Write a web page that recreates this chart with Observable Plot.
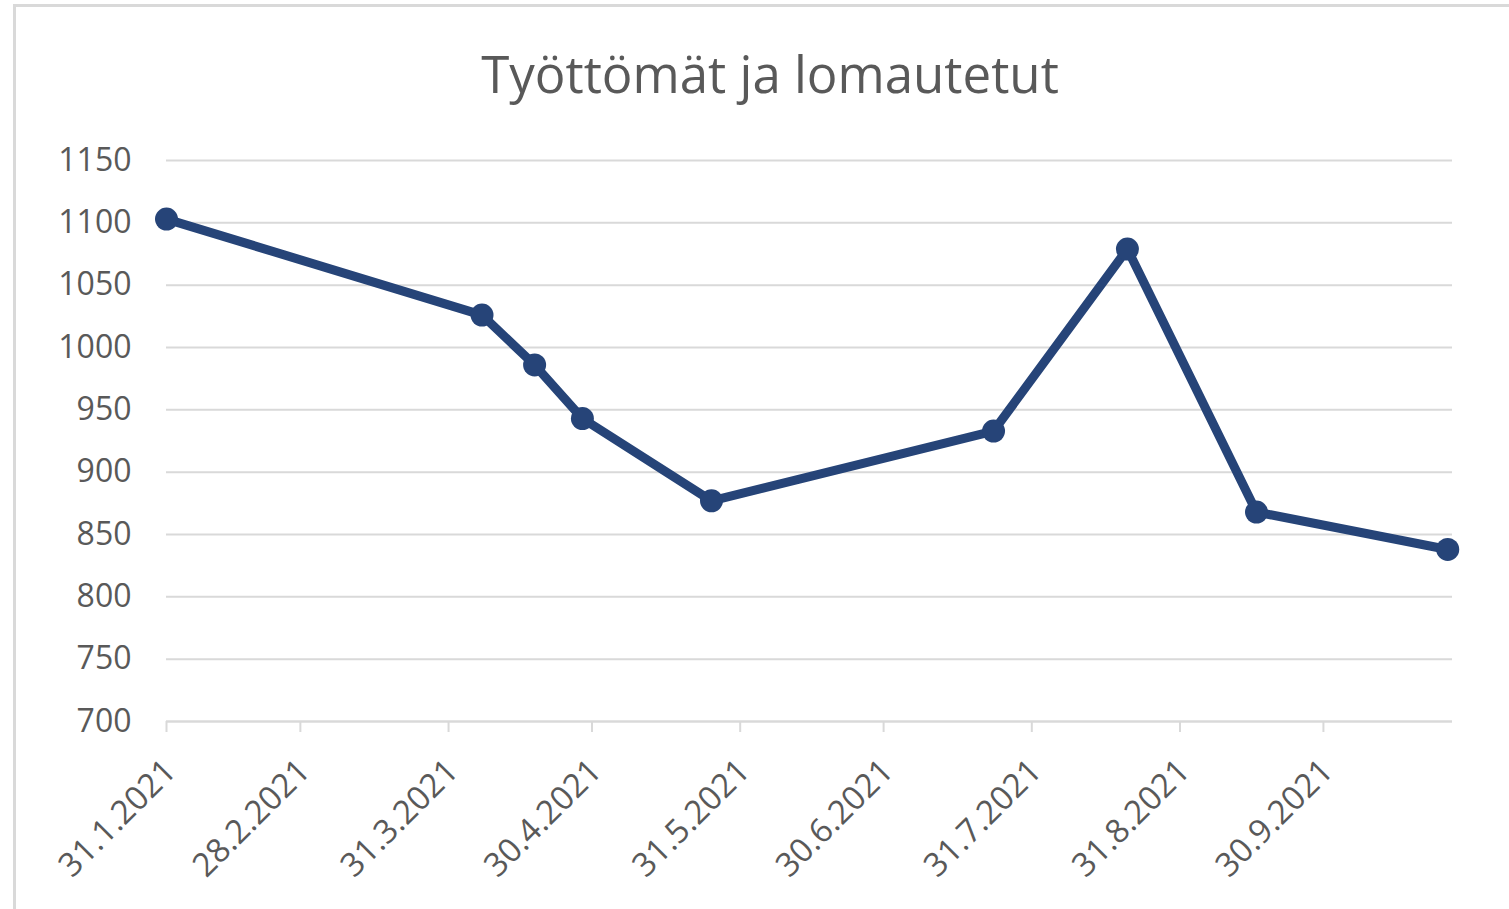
<!DOCTYPE html>
<html>
<head>
<meta charset="utf-8">
<script src="https://cdn.jsdelivr.net/npm/d3@7"></script>
<script src="https://cdn.jsdelivr.net/npm/@observablehq/plot@0.6"></script>
<style>
  html, body { margin: 0; padding: 0; background: #fff; }
  #wrap { position: relative; width: 1509px; height: 909px; overflow: hidden; background: #fff; }
  #frame { position: absolute; left: 13px; top: 4px; width: 1600px; height: 1000px; border: 3px solid #d9d9d9; box-sizing: border-box; }
  #title { position: absolute; left: 0; top: 48px; width: 1540px; text-align: center; font-family: "Open Sans", sans-serif; font-size: 51px; line-height: 50px; color: #595959; }
  #chart { position: absolute; left: 0; top: 120px; }
</style>
</head>
<body>
<div id="wrap">
  <div id="frame"></div>
  <div id="title">Työttömät ja lomautetut</div>
  <div id="chart"></div>
</div>
<script>
const dates = ["2021-01-31","2021-04-07","2021-04-18","2021-04-28","2021-05-25","2021-07-23","2021-08-20","2021-09-16","2021-10-26"];
const values = [1103, 1026, 986, 943, 877, 933, 1079, 868, 838];
const yTicks = [700, 750, 800, 850, 900, 950, 1000, 1050, 1100, 1150];
const xTickDates = ["2021-01-31","2021-02-28","2021-03-31","2021-04-30","2021-05-31","2021-06-30","2021-07-31","2021-08-31","2021-09-30"];
const xTickLabels = ["31.1.2021","28.2.2021","31.3.2021","30.4.2021","31.5.2021","30.6.2021","31.7.2021","31.8.2021","30.9.2021"];
const xDomain = ["2021-01-31", "2021-10-27"];

const data = dates.map((d, i) => ({date: new Date(d), value: values[i]}));
const ticks = xTickDates.map(d => new Date(d));
const fmt = d => xTickLabels[ticks.findIndex(t => +t === +d)];

const chart = Plot.plot({
  width: 1509,
  height: 789,
  marginTop: 40,
  marginBottom: 188,
  marginLeft: 166,
  marginRight: 57,
  style: {fontFamily: "Open Sans, sans-serif", background: "transparent", overflow: "visible"},
  x: {type: "utc", domain: xDomain.map(d => new Date(d)), label: null},
  y: {domain: [700, 1150], label: null},
  marks: [
    Plot.gridY(yTicks, {stroke: "#d9d9d9", strokeOpacity: 1, strokeWidth: 2}),
    Plot.axisY(yTicks, {tickSize: 0, tickPadding: 35, fontSize: 32, color: "#595959", tickFormat: d => String(d), label: null}),
    Plot.axisX(ticks, {tickSize: 11, color: "#d9d9d9", strokeWidth: 2, tickFormat: () => "", label: null}),
    Plot.axisX(ticks, {tickSize: 0, tickPadding: 44, dx: 4, tickRotate: -45, fontSize: 33, color: "#595959", tickFormat: fmt, label: null}),
    Plot.ruleY([700], {stroke: "#d9d9d9", strokeWidth: 2}),
    Plot.line(data, {x: "date", y: "value", stroke: "#264478", strokeWidth: 9}),
    Plot.dot(data, {x: "date", y: "value", r: 11.5, fill: "#264478"})
  ]
});
document.getElementById("chart").appendChild(chart);
</script>
</body>
</html>
